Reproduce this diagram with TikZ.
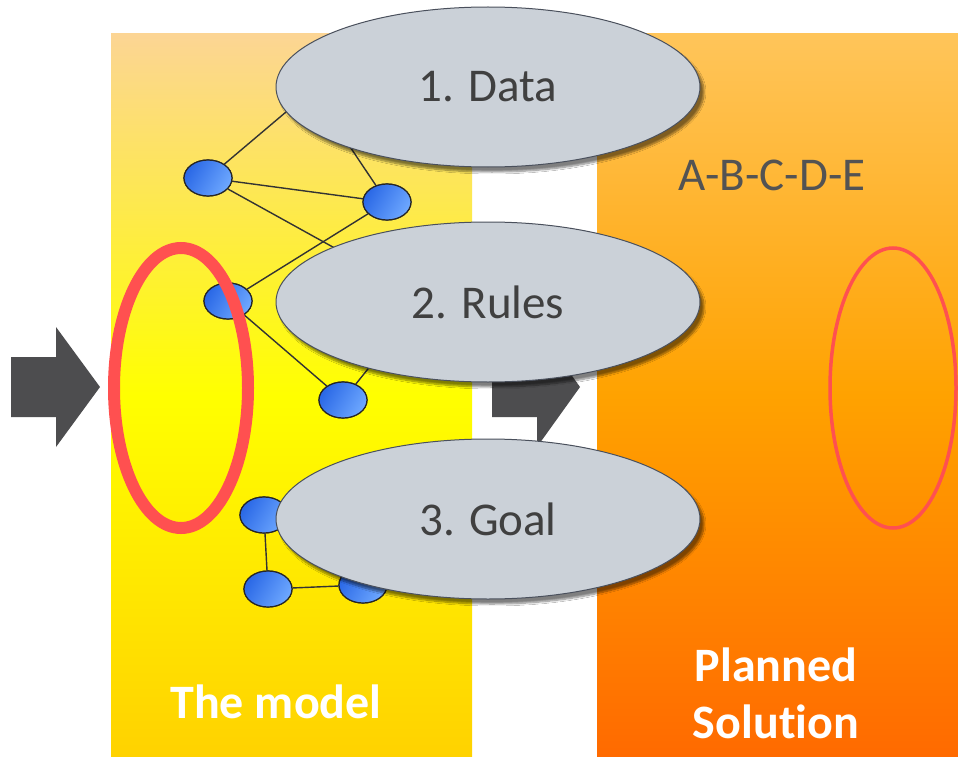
\documentclass[tikz,border=0pt]{standalone}
\usepackage{fontspec}
\setmainfont{Carlito}[Ligatures=NoCommon]
\usetikzlibrary{shapes.geometric,shadows.blur}
\definecolor{ltop}{HTML}{FCD594}
\definecolor{lmid}{HTML}{FFFF00}
\definecolor{lbot}{HTML}{FFD200}
\definecolor{rtop}{HTML}{FFC55A}
\definecolor{rmid}{HTML}{FFA200}
\definecolor{rbot}{HTML}{FF6A00}
\definecolor{arrowgray}{HTML}{4D4D4F}
\definecolor{ovalfill}{HTML}{CBD1D8}
\definecolor{ovalline}{HTML}{4A505C}
\definecolor{txtgray}{HTML}{404040}
\definecolor{redring}{HTML}{FF5050}
\definecolor{nodedark}{HTML}{2A68E6}
\definecolor{nodelight}{HTML}{6EA8FF}
\tikzset{
  gnode/.style={ellipse, draw=black!85, line width=1.2pt, minimum width=48pt, minimum height=36pt, inner sep=0pt,
    left color=nodedark, right color=nodelight, shading angle=60},
  gedge/.style={draw=black!80, line width=1.4pt},
  oval/.style={ellipse, draw=ovalline, line width=1pt, fill=ovalfill, minimum width=424pt, minimum height=160pt, inner sep=0pt,
    font=\fontsize{47}{56}\selectfont, text=txtgray,
    blur shadow={shadow xshift=4pt, shadow yshift=-5pt, shadow blur steps=8, shadow opacity=50}},
  bigarrow/.style={fill=arrowgray},
  paneltext/.style={text=white, font=\bfseries\fontsize{48}{57}\selectfont, align=center}
}
\begin{document}
\begin{tikzpicture}[x=1pt,y=-1pt]
\useasboundingbox (0,0) rectangle (958,757);
\fill[white] (0,0) rectangle (958,757);
% panels
\shade[top color=ltop, bottom color=lbot, middle color=lmid] (111,34) rectangle (472,757);
\shade[top color=rtop, bottom color=rbot, middle color=rmid] (597,34) rectangle (958,757);
% arrows
\fill[bigarrow] (11,357) -- (56,357) -- (56,327) -- (100,387) -- (56,447) -- (56,417) -- (11,417) -- cycle;
\fill[bigarrow] (492,357) -- (537,357) -- (537,327) -- (580,387) -- (537,447) -- (537,417) -- (492,417) -- cycle;
% graph
\coordinate (h1) at (312,90);
\coordinate (h2) at (425,298);
\coordinate (h3) at (420,520);
\node[gnode] (n1) at (208,178) {};
\node[gnode] (n2) at (387,202) {};
\node[gnode] (n3) at (228,301) {};
\node[gnode] (n4) at (343,400) {};
\node[gnode] (n5) at (264,515) {};
\node[gnode] (n6) at (268,589) {};
\node[gnode] (n7) at (363,585) {};
\path[gedge] (n1) -- (h1);
\path[gedge] (n2) -- (h1);
\path[gedge] (n1) -- (n2);
\path[gedge] (n1) -- (h2);
\path[gedge] (n3) -- (n2);
\path[gedge] (n3) -- (n4);
\path[gedge] (n4) -- (h2);
\path[gedge] (n5) -- (n6);
\path[gedge] (n6) -- (n7);
\path[gedge] (n5) -- (h3);
% redraw nodes over edges
\node[gnode] at (n1) {};
\node[gnode] at (n2) {};
\node[gnode] at (n3) {};
\node[gnode] at (n4) {};
\node[gnode] at (n5) {};
\node[gnode] at (n6) {};
\node[gnode] at (n7) {};
% red rings
\draw[redring, line width=12pt] (181,388) ellipse [x radius=67, y radius=140];
\draw[redring, line width=3.5pt] (893,388) ellipse [x radius=63, y radius=140];
% gray ovals
\node[oval] (data) at (488,87) {1. Data};
\node[oval] (rules) at (488,302) {2. Rules};
\node[oval] (goal) at (488,519) {3. Goal};
% texts
\node[text=txtgray!90, font=\fontsize{47}{56}\selectfont] (abc) at (772,175) {A-B-C-D-E};
\node[paneltext] (model) at (276,702) {The model};
\node[paneltext] (planned) at (776,693) {Planned\\Solution};
\end{tikzpicture}
\end{document}
